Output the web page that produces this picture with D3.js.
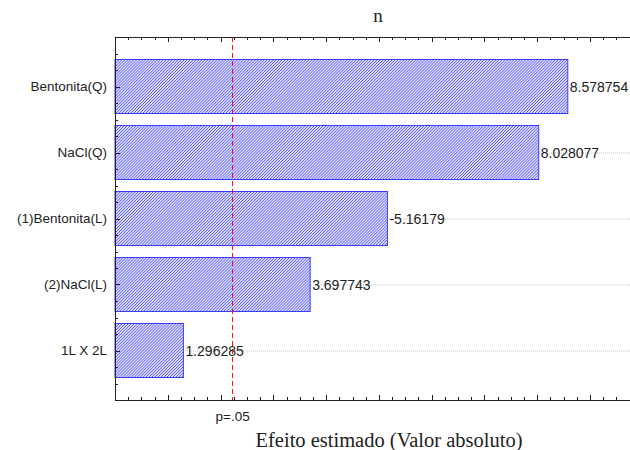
<!DOCTYPE html>
<html>
<head>
<meta charset="utf-8">
<script src="https://cdn.jsdelivr.net/npm/d3@7"></script>
<style>
  body { margin: 0; background: #fff; }
  svg { display: block; }
</style>
</head>
<body>
<svg id="chart" width="630" height="450"></svg>
<script>
// Pareto chart data
const categories = ['Bentonita(Q)', 'NaCl(Q)', '(1)Bentonita(L)', '(2)NaCl(L)', '1L X 2L'];
const effects = [8.578754, 8.028077, -5.16179, 3.697743, 1.296285];
const effectLabels = ['8.578754', '8.028077', '-5.16179', '3.697743', '1.296285'];
const pCritical = 2.228;
const pLabel = 'p=.05';

const W = 630, H = 450;
const margin = { top: 37, left: 115, bottom: 400 };

const svg = d3.select('#chart');

const x = d3.scaleLinear().domain([0, 10]).range([margin.left, margin.left + 527.8]);
// y as continuous index so minor ticks fall between categories
const y = d3.scaleLinear().domain([-0.75, categories.length - 0.25]).range([margin.top, margin.bottom]);
const barH = 54;

// hatch pattern
const defs = svg.append('defs');
const pat = defs.append('pattern')
  .attr('id', 'hatch')
  .attr('patternUnits', 'userSpaceOnUse')
  .attr('width', 2.1).attr('height', 2.1)
  .attr('patternTransform', 'rotate(45)');
pat.append('rect').attr('width', 2.1).attr('height', 2.1).attr('fill', '#dcdcff');
pat.append('line')
  .attr('x1', 0).attr('y1', 0).attr('x2', 0).attr('y2', 2.1)
  .attr('stroke', '#2020ff').attr('stroke-width', 1);

// dotted grid at category centres
svg.append('g')
  .selectAll('line')
  .data(categories)
  .join('line')
  .attr('x1', margin.left).attr('x2', W)
  .attr('y1', (d, i) => y(i) + 0.5).attr('y2', (d, i) => y(i) + 0.5)
  .attr('stroke', '#c8c8c8')
  .attr('stroke-dasharray', '1,1');

// bars
svg.append('g')
  .selectAll('rect')
  .data(effects)
  .join('rect')
  .attr('x', x(0))
  .attr('y', (d, i) => y(i) - barH / 2)
  .attr('width', d => x(Math.abs(d)) - x(0))
  .attr('height', barH)
  .attr('fill', 'url(#hatch)')
  .attr('stroke', '#3c3cff')
  .attr('stroke-width', 1);

// value labels
svg.append('g')
  .selectAll('text')
  .data(effects)
  .join('text')
  .attr('x', d => x(Math.abs(d)) + 2)
  .attr('y', (d, i) => y(i))
  .attr('dy', '0.36em')
  .style('font-family', 'Liberation Sans, Arial, sans-serif')
  .style('font-size', '14px')
  .style('fill', '#222')
  .text((d, i) => effectLabels[i]);

// category labels
svg.append('g')
  .selectAll('text')
  .data(categories)
  .join('text')
  .attr('x', 107)
  .attr('y', (d, i) => y(i))
  .attr('dy', '0.36em')
  .attr('text-anchor', 'end')
  .style('font-family', 'Liberation Sans, Arial, sans-serif')
  .style('font-size', '13.5px')
  .style('fill', '#222')
  .text(d => d);

// frame axes (left, top, bottom), ticks pointing inward
const axisG = svg.append('g').attr('stroke', '#222').attr('stroke-width', 1);
axisG.append('line').attr('x1', margin.left + 0.5).attr('x2', margin.left + 0.5)
  .attr('y1', margin.top).attr('y2', margin.bottom);
axisG.append('line').attr('x1', margin.left).attr('x2', W)
  .attr('y1', margin.top + 0.5).attr('y2', margin.top + 0.5);
axisG.append('line').attr('x1', margin.left).attr('x2', W)
  .attr('y1', margin.bottom + 0.5).attr('y2', margin.bottom + 0.5);

const xTicks = d3.range(0, 10.01, 0.25).filter(v => v > 0);
xTicks.forEach(v => {
  const len = Math.abs(v - Math.round(v)) < 1e-6 ? 5 : 3;
  const px = Math.round(x(v)) + 0.5;
  axisG.append('line').attr('x1', px).attr('x2', px)
    .attr('y1', margin.bottom).attr('y2', margin.bottom - len);
  axisG.append('line').attr('x1', px).attr('x2', px)
    .attr('y1', margin.top).attr('y2', margin.top + len);
});

const yTicks = d3.range(-0.5, categories.length - 0.25, 0.25);
yTicks.forEach(v => {
  const len = Math.abs(v - Math.round(v)) < 1e-6 ? 5 : 3;
  const py = Math.round(y(v)) + 0.5;
  axisG.append('line').attr('x1', margin.left).attr('x2', margin.left + len)
    .attr('y1', py).attr('y2', py);
});

// critical value line
svg.append('line')
  .attr('x1', x(pCritical)).attr('x2', x(pCritical))
  .attr('y1', margin.top).attr('y2', margin.bottom)
  .attr('stroke', '#ff0000')
  .attr('stroke-width', 1)
  .attr('stroke-dasharray', '5,3');

svg.append('text')
  .attr('x', x(pCritical))
  .attr('y', 421)
  .attr('text-anchor', 'middle')
  .style('font-family', 'Liberation Sans, Arial, sans-serif')
  .style('font-size', '13.5px')
  .style('fill', '#222')
  .text(pLabel);

// titles
svg.append('text')
  .attr('x', 378).attr('y', 22)
  .attr('text-anchor', 'middle')
  .style('font-family', 'Liberation Serif, Times New Roman, serif')
  .style('font-size', '19px')
  .style('fill', '#222')
  .text('n');

svg.append('text')
  .attr('x', 389).attr('y', 447)
  .attr('text-anchor', 'middle')
  .style('font-family', 'Liberation Serif, Times New Roman, serif')
  .style('font-size', '20.5px')
  .style('fill', '#222')
  .text('Efeito estimado (Valor absoluto)');
</script>
</body>
</html>
